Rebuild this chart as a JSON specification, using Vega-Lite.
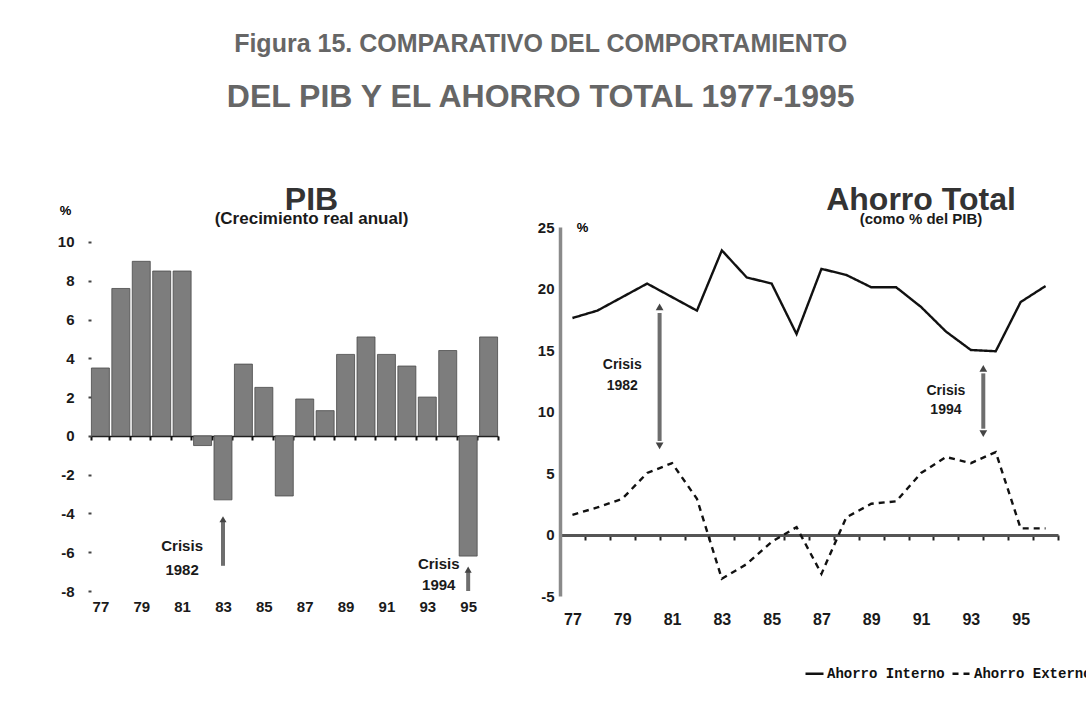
{
  "$schema": "https://vega.github.io/schema/vega-lite/v6.json",
  "background": "white",
  "padding": {"left": 57, "top": 32, "right": 0, "bottom": 10},
  "config": {
    "font": "Liberation Sans",
    "view": {"stroke": null},
    "axis": {"labelFont": "Liberation Sans", "labelFontWeight": "bold", "labelColor": "#1a1a1a", "grid": false, "titleFont": "Liberation Sans"}
  },
  "title": {
    "text": "Figura 15. COMPARATIVO DEL COMPORTAMIENTO",
    "subtitle": "DEL PIB Y EL AHORRO TOTAL 1977-1995",
    "font": "Liberation Sans",
    "fontSize": 25,
    "fontWeight": "bold",
    "color": "#666666",
    "subtitleFont": "Liberation Sans",
    "subtitleFontSize": 32,
    "subtitleFontWeight": "bold",
    "subtitleColor": "#666666",
    "subtitlePadding": 25,
    "anchor": "middle",
    "dx": -34,
    "offset": 71
  },
  "datasets": {
    "pib": [
      {"anio": "77", "valor": 3.5}, {"anio": "78", "valor": 7.6}, {"anio": "79", "valor": 9.0},
      {"anio": "80", "valor": 8.5}, {"anio": "81", "valor": 8.5}, {"anio": "82", "valor": -0.5},
      {"anio": "83", "valor": -3.3}, {"anio": "84", "valor": 3.7}, {"anio": "85", "valor": 2.5},
      {"anio": "86", "valor": -3.1}, {"anio": "87", "valor": 1.9}, {"anio": "88", "valor": 1.3},
      {"anio": "89", "valor": 4.2}, {"anio": "90", "valor": 5.1}, {"anio": "91", "valor": 4.2},
      {"anio": "92", "valor": 3.6}, {"anio": "93", "valor": 2.0}, {"anio": "94", "valor": 4.4},
      {"anio": "95", "valor": -6.2}, {"anio": "96", "valor": 5.1}
    ],
    "ahorro": [
      {"anio": "77", "serie": "Ahorro Interno", "valor": 17.6}, {"anio": "78", "serie": "Ahorro Interno", "valor": 18.2},
      {"anio": "79", "serie": "Ahorro Interno", "valor": 19.3}, {"anio": "80", "serie": "Ahorro Interno", "valor": 20.4},
      {"anio": "81", "serie": "Ahorro Interno", "valor": 19.3}, {"anio": "82", "serie": "Ahorro Interno", "valor": 18.2},
      {"anio": "83", "serie": "Ahorro Interno", "valor": 23.1}, {"anio": "84", "serie": "Ahorro Interno", "valor": 20.9},
      {"anio": "85", "serie": "Ahorro Interno", "valor": 20.4}, {"anio": "86", "serie": "Ahorro Interno", "valor": 16.3},
      {"anio": "87", "serie": "Ahorro Interno", "valor": 21.6}, {"anio": "88", "serie": "Ahorro Interno", "valor": 21.1},
      {"anio": "89", "serie": "Ahorro Interno", "valor": 20.1}, {"anio": "90", "serie": "Ahorro Interno", "valor": 20.1},
      {"anio": "91", "serie": "Ahorro Interno", "valor": 18.5}, {"anio": "92", "serie": "Ahorro Interno", "valor": 16.5},
      {"anio": "93", "serie": "Ahorro Interno", "valor": 15.0}, {"anio": "94", "serie": "Ahorro Interno", "valor": 14.9},
      {"anio": "95", "serie": "Ahorro Interno", "valor": 18.9}, {"anio": "96", "serie": "Ahorro Interno", "valor": 20.2},
      {"anio": "77", "serie": "Ahorro Externo", "valor": 1.6}, {"anio": "78", "serie": "Ahorro Externo", "valor": 2.2},
      {"anio": "79", "serie": "Ahorro Externo", "valor": 2.9}, {"anio": "80", "serie": "Ahorro Externo", "valor": 5.0},
      {"anio": "81", "serie": "Ahorro Externo", "valor": 5.8}, {"anio": "82", "serie": "Ahorro Externo", "valor": 2.9},
      {"anio": "83", "serie": "Ahorro Externo", "valor": -3.6}, {"anio": "84", "serie": "Ahorro Externo", "valor": -2.4},
      {"anio": "85", "serie": "Ahorro Externo", "valor": -0.6}, {"anio": "86", "serie": "Ahorro Externo", "valor": 0.6},
      {"anio": "87", "serie": "Ahorro Externo", "valor": -3.2}, {"anio": "88", "serie": "Ahorro Externo", "valor": 1.4},
      {"anio": "89", "serie": "Ahorro Externo", "valor": 2.5}, {"anio": "90", "serie": "Ahorro Externo", "valor": 2.7},
      {"anio": "91", "serie": "Ahorro Externo", "valor": 5.0}, {"anio": "92", "serie": "Ahorro Externo", "valor": 6.3},
      {"anio": "93", "serie": "Ahorro Externo", "valor": 5.8}, {"anio": "94", "serie": "Ahorro Externo", "valor": 6.7},
      {"anio": "95", "serie": "Ahorro Externo", "valor": 0.5}, {"anio": "96", "serie": "Ahorro Externo", "valor": 0.5}
    ],
    "flechasPib": [
      {"anio": "83", "desde": -6.7, "hasta": -4.4},
      {"anio": "95", "desde": -8.0, "hasta": -7.0}
    ],
    "puntasPib": [
      {"anio": "83", "valor": -4.3},
      {"anio": "95", "valor": -6.9}
    ],
    "textosCrisis82": [
      {"anio": "81", "valor": -5.7, "texto": "Crisis"},
      {"anio": "81", "valor": -6.9, "texto": "1982"}
    ],
    "textosCrisis94": [
      {"anio": "94", "valor": -6.6, "texto": "Crisis"},
      {"anio": "94", "valor": -7.7, "texto": "1994"}
    ],
    "flechasAhorro": [
      {"anio": "80", "desde": 7.6, "hasta": 18.0},
      {"anio": "93", "desde": 8.6, "hasta": 13.1}
    ],
    "puntasAhorro": [
      {"anio": "80", "valor": 18.5, "sentido": "arriba"},
      {"anio": "80", "valor": 7.2, "sentido": "abajo"},
      {"anio": "93", "valor": 13.5, "sentido": "arriba"},
      {"anio": "93", "valor": 8.2, "sentido": "abajo"}
    ],
    "textosAhorro": [
      {"anio": "79", "valor": 13.8, "texto": "Crisis"},
      {"anio": "79", "valor": 12.1, "texto": "1982"},
      {"anio": "92", "valor": 11.7, "texto": "Crisis"},
      {"anio": "92", "valor": 10.1, "texto": "1994"}
    ]
  },
  "spacing": 38,
  "hconcat": [
    {
      "width": 407,
      "height": 364,
      "title": {
        "text": "PIB",
        "subtitle": "(Crecimiento real anual)",
        "frame": "group",
        "anchor": "middle",
        "dx": 17,
        "offset": -24,
        "font": "Liberation Sans",
        "fontSize": 32,
        "fontWeight": "bold",
        "color": "#333333",
        "subtitleFont": "Liberation Sans",
        "subtitleFontSize": 17,
        "subtitleFontWeight": "bold",
        "subtitleColor": "#1a1a1a",
        "subtitlePadding": -6
      },
      "layer": [
        {
          "data": {"name": "pib"},
          "mark": {"type": "bar", "color": "#7d7d7d", "stroke": "#4a4a4a", "strokeWidth": 0.8},
          "encoding": {
            "x": {
              "field": "anio", "type": "ordinal",
              "scale": {"paddingInner": 0.12, "paddingOuter": 0.02},
              "axis": {
                "title": null, "orient": "bottom", "offset": -155,
                "domainColor": "#111", "domainWidth": 1.5,
                "tickColor": "#111", "tickWidth": 2, "tickSize": 4, "tickBand": "extent",
                "labelPadding": 159, "labelFontSize": 15, "labelAngle": 0, "labelOverlap": false,
                "labelExpr": "toNumber(datum.value) % 2 == 1 ? datum.value : ''"
              }
            },
            "y": {
              "field": "valor", "type": "quantitative",
              "scale": {"domain": [-8, 10.77], "nice": false, "zero": false},
              "axis": {
                "title": "%", "titleAngle": 0, "titleX": -26, "titleY": -17, "titleFontSize": 13,
                "titleFontWeight": "bold", "titleAlign": "center", "titleBaseline": "middle",
                "values": [-8, -6, -4, -2, 0, 2, 4, 6, 8, 10],
                "domain": false,
                "tickSize": 3, "tickColor": "#444", "tickWidth": 2,
                "labelPadding": 14, "labelFontSize": 15, "labelOverlap": false,
                "labelExpr": "'' + datum.value"
              }
            }
          }
        },
        {
          "mark": {"type": "rule", "strokeWidth": 3.5, "color": "#8a8a8a"},
          "encoding": {
            "x": {"datum": "77", "type": "ordinal", "bandPosition": 0},
            "y": {"datum": -8, "type": "quantitative"},
            "y2": {"datum": 10}
          }
        },
        {
          "data": {"name": "flechasPib"},
          "mark": {"type": "rule", "strokeWidth": 4, "color": "#6e6e6e"},
          "encoding": {
            "x": {"field": "anio", "type": "ordinal"},
            "y": {"field": "desde", "type": "quantitative"},
            "y2": {"field": "hasta"}
          }
        },
        {
          "data": {"name": "puntasPib"},
          "mark": {"type": "point", "shape": "triangle-up", "filled": true, "color": "#444", "size": 50, "opacity": 1},
          "encoding": {
            "x": {"field": "anio", "type": "ordinal"},
            "y": {"field": "valor", "type": "quantitative"}
          }
        },
        {
          "data": {"name": "textosCrisis82"},
          "mark": {"type": "text", "font": "Liberation Sans", "fontWeight": "bold", "fontSize": 15, "color": "#1a1a1a"},
          "encoding": {
            "x": {"field": "anio", "type": "ordinal"},
            "y": {"field": "valor", "type": "quantitative"},
            "text": {"field": "texto"}
          }
        },
        {
          "data": {"name": "textosCrisis94"},
          "mark": {"type": "text", "font": "Liberation Sans", "fontWeight": "bold", "fontSize": 15, "color": "#1a1a1a"},
          "encoding": {
            "x": {"field": "anio", "type": "ordinal", "bandPosition": 0},
            "y": {"field": "valor", "type": "quantitative"},
            "text": {"field": "texto"}
          }
        }
      ]
    },
    {
      "width": 498,
      "height": 369,
      "title": {
        "text": "Ahorro Total",
        "subtitle": "(como % del PIB)",
        "frame": "group",
        "anchor": "middle",
        "dx": 112,
        "offset": -8,
        "font": "Liberation Sans",
        "fontSize": 32,
        "fontWeight": "bold",
        "color": "#333333",
        "subtitleFont": "Liberation Sans",
        "subtitleFontSize": 15,
        "subtitleFontWeight": "bold",
        "subtitleColor": "#1a1a1a",
        "subtitlePadding": -5
      },
      "layer": [
        {
          "data": {"name": "ahorro"},
          "mark": {"type": "line", "strokeWidth": 2.4, "color": "#111"},
          "encoding": {
            "x": {
              "field": "anio", "type": "ordinal",
              "scale": {"type": "band", "paddingInner": 0, "paddingOuter": 0},
              "axis": {
                "title": null, "orient": "bottom", "offset": -61,
                "domainColor": "#555", "domainWidth": 3,
                "tickColor": "#222", "tickWidth": 2, "tickSize": 5, "tickBand": "extent",
                "labelPadding": 71, "labelFontSize": 16, "labelAngle": 0, "labelOverlap": false,
                "labelExpr": "toNumber(datum.value) % 2 == 1 ? datum.value : ''"
              }
            },
            "y": {
              "field": "valor", "type": "quantitative",
              "scale": {"domain": [-5, 25], "nice": false, "zero": false},
              "axis": {
                "title": "%", "titleAngle": 0, "titleX": 22, "titleY": 0, "titleFontSize": 13,
                "titleFontWeight": "bold", "titleAlign": "center", "titleBaseline": "middle",
                "values": [-5, 0, 5, 10, 15, 20, 25],
                "domainColor": "#8a8a8a", "domainWidth": 3.5,
                "tickSize": 0,
                "labelPadding": 6, "labelFontSize": 15, "labelOverlap": false,
                "labelExpr": "'' + datum.value"
              }
            },
            "strokeDash": {
              "field": "serie", "type": "nominal",
              "scale": {"domain": ["Ahorro Interno", "Ahorro Externo"], "range": [[1, 0], [6, 5]]},
              "legend": {
                "title": null, "orient": "none", "legendX": 713, "legendY": 436,
                "direction": "horizontal",
                "labelFont": "Liberation Mono", "labelFontSize": 14, "labelFontWeight": "bold", "labelColor": "#111",
                "symbolType": "stroke", "symbolStrokeWidth": 2.5, "symbolSize": 324, "symbolStrokeColor": "#111",
                "columnPadding": 2, "labelOffset": 2
              }
            }
          }
        },
        {
          "data": {"name": "flechasAhorro"},
          "mark": {"type": "rule", "strokeWidth": 4, "color": "#6e6e6e"},
          "encoding": {
            "x": {"field": "anio", "type": "ordinal", "bandPosition": 1},
            "y": {"field": "desde", "type": "quantitative"},
            "y2": {"field": "hasta"}
          }
        },
        {
          "data": {"name": "puntasAhorro"},
          "mark": {"type": "point", "filled": true, "color": "#444", "size": 60, "opacity": 1},
          "encoding": {
            "x": {"field": "anio", "type": "ordinal", "bandPosition": 1},
            "y": {"field": "valor", "type": "quantitative"},
            "shape": {"field": "sentido", "type": "nominal", "scale": {"domain": ["arriba", "abajo"], "range": ["triangle-up", "triangle-down"]}, "legend": null}
          }
        },
        {
          "data": {"name": "textosAhorro"},
          "mark": {"type": "text", "font": "Liberation Sans", "fontWeight": "bold", "fontSize": 14, "color": "#1a1a1a"},
          "encoding": {
            "x": {"field": "anio", "type": "ordinal"},
            "y": {"field": "valor", "type": "quantitative"},
            "text": {"field": "texto"}
          }
        }
      ]
    }
  ]
}
